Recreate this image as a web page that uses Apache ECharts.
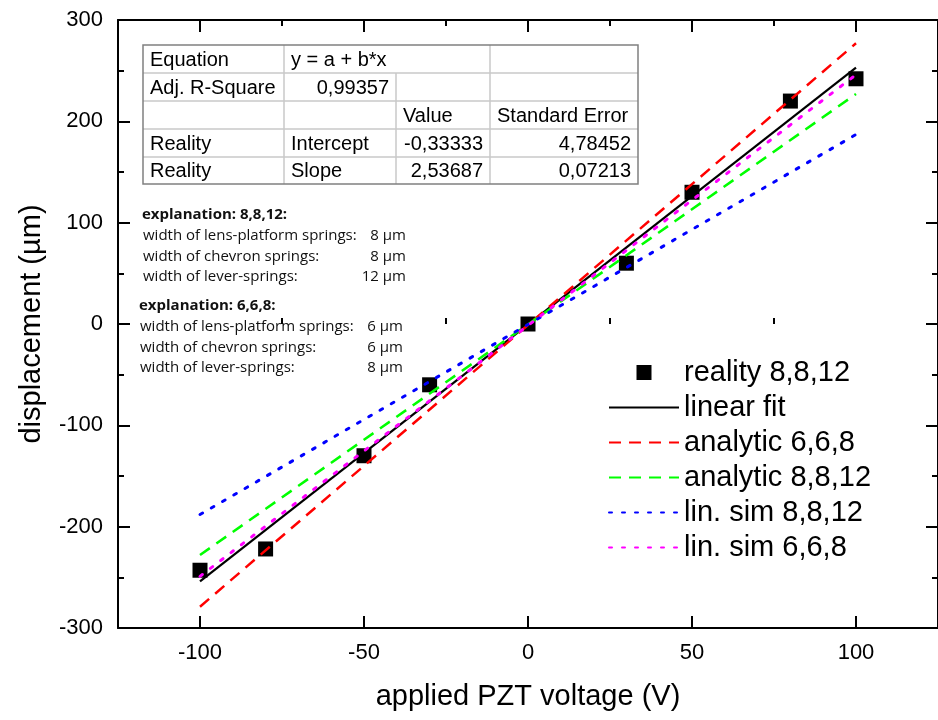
<!DOCTYPE html>
<html>
<head>
<meta charset="utf-8">
<title>PZT displacement</title>
<script src="https://cdn.jsdelivr.net/npm/echarts@6/dist/echarts.min.js"></script>
<style>
    html, body { margin: 0; padding: 0; background: #fff; }
    #main { width: 938px; height: 720px; }
</style>
</head>
<body>
<div id="main"></div>
<script>
// 测量点
var voltage = [-100, -80, -50, -30, 0, 30, 50, 80, 100];
var reality = [-243, -222, -130, -60, 0, 60, 130, 220, 242];

// 直线 (x = -100 ... 100)
var lineX = [-100, 100];
var linearFit = [-254, 253];
var analytic668 = [-279, 277];
var analytic8812 = [-228, 227];
var linSim8812 = [-188, 187];
var linSim668 = [-249, 246];

// 刻度
var xMajor = [-100, -50, 0, 50, 100];
var xMinor = [-75, -25, 25, 75];

// 拟合结果表格
var tableCells = [
    ['Equation', 'y = a + b*x', '', ''],
    ['Adj. R-Square', '0,99357', '', ''],
    ['', '', 'Value', 'Standard Error'],
    ['Reality', 'Intercept', '-0,33333', '4,78452'],
    ['Reality', 'Slope', '2,53687', '0,07213']
];
var tableAlign = [
    ['left', 'left', 'left', 'left'],
    ['left', 'right', 'left', 'left'],
    ['left', 'left', 'left', 'left'],
    ['left', 'left', 'right', 'right'],
    ['left', 'left', 'right', 'right']
];

// 说明文字
var explTitles = ['explanation: 8,8,12:', 'explanation: 6,6,8:'];
var explLabels = ['width of lens-platform springs:', 'width of chevron springs:', 'width of lever-springs:'];
var explValues8812 = ['8 µm', '8 µm', '12 µm'];
var explValues668 = ['6 µm', '6 µm', '8 µm'];

var seriesNames = ['reality 8,8,12', 'linear fit', 'analytic 6,6,8', 'analytic 8,8,12', 'lin. sim 8,8,12', 'lin. sim 6,6,8'];

var FONT = 'Liberation Sans, Arial, sans-serif';
var NOTE_FONT = 'Open Sans, Noto Sans, sans-serif';

function pairs(xs, ys) {
    var res = [];
    for (var i = 0; i < xs.length; i++) res.push([xs[i], ys[i]]);
    return res;
}

/**
 * 表格 + 说明 (graphic)
 */
function buildGraphic() {
    var cols = [143, 284, 396, 490, 638];
    var rows = [45, 73, 101, 129, 157, 184];
    var els = [];
    var inner = { stroke: '#c8c8c8', lineWidth: 1.5 };
    // 横线
    for (var r = 1; r < rows.length - 1; r++) {
        els.push({ type: 'line', shape: { x1: cols[0], y1: rows[r], x2: cols[4], y2: rows[r] }, style: inner });
    }
    // 竖线
    els.push({ type: 'line', shape: { x1: cols[1], y1: rows[0], x2: cols[1], y2: rows[5] }, style: inner });
    els.push({ type: 'line', shape: { x1: cols[2], y1: rows[1], x2: cols[2], y2: rows[5] }, style: inner });
    els.push({ type: 'line', shape: { x1: cols[3], y1: rows[0], x2: cols[3], y2: rows[5] }, style: inner });
    // 外框
    els.push({
        type: 'rect',
        shape: { x: cols[0], y: rows[0], width: cols[4] - cols[0], height: rows[5] - rows[0] },
        style: { fill: 'none', stroke: '#808080', lineWidth: 1.5 }
    });
    for (var i = 0; i < tableCells.length; i++) {
        for (var j = 0; j < 4; j++) {
            if (!tableCells[i][j]) continue;
            var right = tableAlign[i][j] === 'right';
            els.push({
                type: 'text',
                x: right ? cols[j + 1] - 7 : cols[j] + 7,
                y: (rows[i] + rows[i + 1]) / 2 + 1,
                style: {
                    text: tableCells[i][j],
                    font: '20px ' + FONT,
                    fill: '#000',
                    textAlign: right ? 'right' : 'left',
                    textVerticalAlign: 'middle'
                }
            });
        }
    }

    // 说明文字
    var blocks = [
        { x: 142, y: 215, vx: 406, vals: explValues8812 },
        { x: 139, y: 306, vx: 403, vals: explValues668 }
    ];
    blocks.forEach(function (b, k) {
        els.push({
            type: 'text', x: b.x, y: b.y,
            style: { text: explTitles[k], font: 'bold 15px ' + NOTE_FONT, fill: '#111', textVerticalAlign: 'middle' }
        });
        for (var n = 0; n < explLabels.length; n++) {
            var yy = b.y + 20.7 * (n + 1);
            els.push({
                type: 'text', x: b.x + 1, y: yy,
                style: { text: explLabels[n], font: '15px ' + NOTE_FONT, fill: '#111', textVerticalAlign: 'middle' }
            });
            els.push({
                type: 'text', x: b.vx, y: yy,
                style: { text: b.vals[n], font: '15px ' + NOTE_FONT, fill: '#111', textAlign: 'right', textVerticalAlign: 'middle' }
            });
        }
    });
    return els;
}

var myChart = echarts.init(document.getElementById('main'), null, { renderer: 'canvas' });

var axisLineStyle = { color: '#000', width: 2 };
var gridBox = { left: 118, right: -8, top: 20, bottom: 92 };

// 图例: 散点用正方形, 线条不画中间的圆点
var legendData = seriesNames.map(function (n, i) {
    if (i === 0) return { name: n, icon: 'path://M0,0L10,0L10,10L0,10Z' };
    return { name: n, itemStyle: { opacity: 0 } };
});

var option = {
    animation: false,
    backgroundColor: '#fff',
    grid: [
        Object.assign({}, gridBox),
        Object.assign({}, gridBox)
    ],
    legend: {
        orient: 'vertical',
        left: 603,
        top: 350,
        itemWidth: 70,
        itemHeight: 15,
        itemGap: 0,
        textStyle: { fontSize: 29, lineHeight: 35, fontFamily: FONT, color: '#000' },
        data: legendData
    },
    xAxis: [
        {
            gridIndex: 0, type: 'value', position: 'bottom', min: -125, max: 125,
            axisLine: { show: true, onZero: false, lineStyle: axisLineStyle },
            axisTick: { show: true, inside: true, length: 12, customValues: xMajor, lineStyle: axisLineStyle },
            axisLabel: { customValues: xMajor, fontSize: 22, fontFamily: FONT, color: '#000', margin: 14 },
            splitLine: { show: false },
            name: 'applied PZT voltage (V)', nameLocation: 'middle', nameGap: 54,
            nameTextStyle: { fontSize: 29, fontFamily: FONT, color: '#000' }
        },
        {
            gridIndex: 0, type: 'value', position: 'top', min: -125, max: 125,
            axisLine: { show: true, onZero: false, lineStyle: axisLineStyle },
            axisTick: { show: true, inside: true, length: 12, customValues: xMajor, lineStyle: axisLineStyle },
            axisLabel: { show: false },
            splitLine: { show: false }
        },
        {
            gridIndex: 1, type: 'value', position: 'bottom', min: -125, max: 125,
            axisLine: { show: false },
            axisTick: { show: true, inside: true, length: 6, customValues: xMinor, lineStyle: axisLineStyle },
            axisLabel: { show: false },
            splitLine: { show: false }
        },
        {
            gridIndex: 1, type: 'value', position: 'top', min: -125, max: 125,
            axisLine: { show: false },
            axisTick: { show: true, inside: true, length: 6, customValues: xMinor, lineStyle: axisLineStyle },
            axisLabel: { show: false },
            splitLine: { show: false }
        }
    ],
    yAxis: [
        {
            gridIndex: 0, type: 'value', position: 'left', min: -300, max: 300, interval: 100,
            axisLine: { show: true, onZero: false, lineStyle: axisLineStyle },
            axisTick: { show: true, inside: true, length: 12, lineStyle: axisLineStyle },
            minorTick: { show: true, splitNumber: 2, length: 6, lineStyle: axisLineStyle },
            axisLabel: { fontSize: 22, fontFamily: FONT, color: '#000', margin: 15 },
            splitLine: { show: false },
            name: 'displacement (µm)', nameLocation: 'middle', nameGap: 72,
            nameTextStyle: { fontSize: 29, fontFamily: FONT, color: '#000' }
        },
        {
            gridIndex: 0, type: 'value', position: 'right', min: -300, max: 300, interval: 100,
            axisLine: { show: true, onZero: false, lineStyle: axisLineStyle },
            axisTick: { show: true, inside: true, length: 12, lineStyle: axisLineStyle },
            minorTick: { show: true, splitNumber: 2, length: 6, lineStyle: axisLineStyle },
            axisLabel: { show: false },
            splitLine: { show: false }
        },
        {
            gridIndex: 1, type: 'value', min: -300, max: 300, show: false
        }
    ],
    graphic: buildGraphic(),
    series: [
        {
            name: seriesNames[0],
            type: 'scatter',
            symbol: 'rect',
            symbolSize: 15,
            itemStyle: { color: '#000', opacity: 1 },
            data: pairs(voltage, reality)
        },
        {
            name: seriesNames[1], type: 'line', symbol: 'none',
            lineStyle: { color: '#000', width: 2.2, type: 'solid' },
            itemStyle: { color: '#000' },
            data: pairs(lineX, linearFit)
        },
        {
            name: seriesNames[2], type: 'line', symbol: 'none',
            lineStyle: { color: '#ff0000', width: 2.5, type: [12, 8] },
            itemStyle: { color: '#ff0000' },
            data: pairs(lineX, analytic668)
        },
        {
            name: seriesNames[3], type: 'line', symbol: 'none',
            lineStyle: { color: '#00ff00', width: 2.5, type: [12, 8] },
            itemStyle: { color: '#00ff00' },
            data: pairs(lineX, analytic8812)
        },
        {
            name: seriesNames[4], type: 'line', symbol: 'none',
            lineStyle: { color: '#0000ff', width: 3, type: [3, 10], cap: 'round' },
            itemStyle: { color: '#0000ff' },
            data: pairs(lineX, linSim8812)
        },
        {
            name: seriesNames[5], type: 'line', symbol: 'none',
            lineStyle: { color: '#ff00ff', width: 3, type: [3, 10], cap: 'round' },
            itemStyle: { color: '#ff00ff' },
            data: pairs(lineX, linSim668)
        }
    ]
};
myChart.setOption(option);
</script>
</body>
</html>
